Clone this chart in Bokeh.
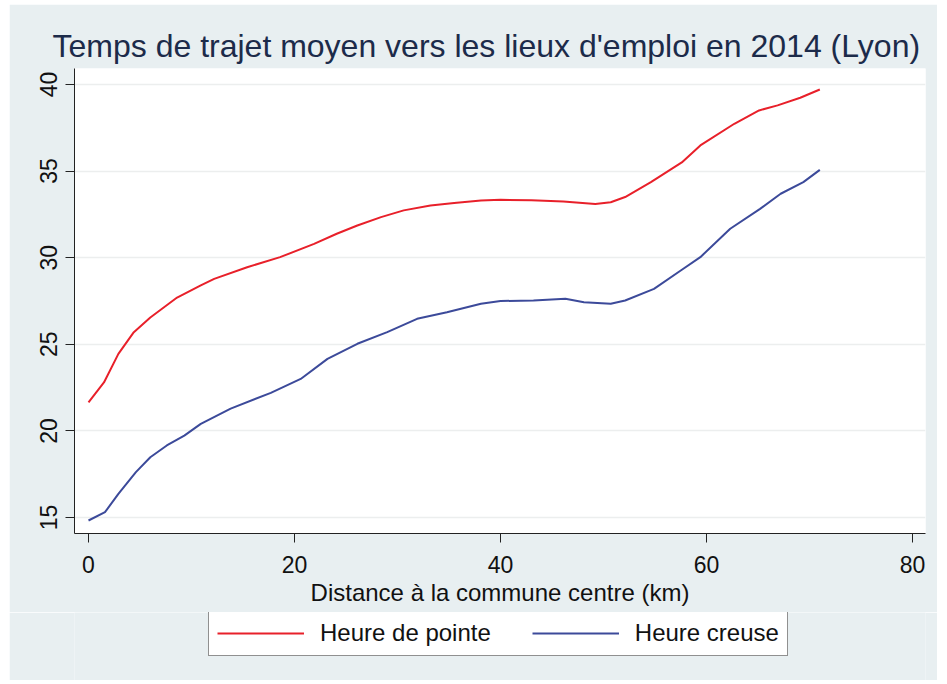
from bokeh.plotting import figure
from bokeh.layouts import column
from bokeh.models import Legend, LegendItem, Range1d, FixedTicker
from bokeh.embed import file_html
from bokeh.resources import INLINE

# Data
pointe_x = [0, 1.5, 2.9, 4.4, 6.0, 8.6, 10.9, 12.2, 15.4, 18.6, 21.9, 24.1, 26.1, 28.4, 30.6,
            33.2, 35.5, 38.1, 40.0, 43.0, 46.1, 49.2, 50.7, 52.1, 54.6, 57.6, 59.4, 62.7, 65.1,
            66.9, 69.1, 71.0]
pointe_y = [21.65, 22.8, 24.45, 25.7, 26.55, 27.7, 28.4, 28.78, 29.45, 30.03, 30.8, 31.38, 31.86,
            32.34, 32.73, 33.01, 33.15, 33.3, 33.34, 33.32, 33.24, 33.1, 33.2, 33.5, 34.36, 35.5,
            36.48, 37.73, 38.5, 38.79, 39.23, 39.71]

creuse_x = [0, 1.6, 2.9, 4.6, 6.0, 7.6, 9.3, 10.9, 13.8, 17.7, 20.6, 23.2, 26.1, 29.0, 31.9, 34.8,
            38.1, 40.0, 43.2, 46.3, 48.1, 50.7, 52.1, 54.9, 57.5, 59.4, 62.3, 65.2, 67.2, 69.4, 71.0]
creuse_y = [14.83, 15.31, 16.37, 17.62, 18.48, 19.16, 19.73, 20.41, 21.29, 22.2, 23.0, 24.16, 25.03,
            25.7, 26.47, 26.85, 27.34, 27.5, 27.53, 27.63, 27.43, 27.34, 27.53, 28.2, 29.26, 30.03,
            31.67, 32.82, 33.69, 34.36, 35.07]

x_ticks = [0, 20, 40, 60, 80]
y_ticks = [15, 20, 25, 30, 35, 40]

title_text = "Temps de trajet moyen vers les lieux d'emploi en 2014 (Lyon)"
x_label = "Distance à la commune centre (km)"
labels = ["Heure de pointe", "Heure creuse"]

FONT = "Liberation Sans"
BG = "#E8EFF1"
RED = "#E8202A"
BLUE = "#3C4A9A"

p = figure(width=928, height=608, output_backend="svg", toolbar_location=None,
           x_range=Range1d(-1.36, 81.26), y_range=Range1d(14.08, 40.92),
           min_border_left=65, min_border_right=12, min_border_top=64, min_border_bottom=79,
           background_fill_color="white", border_fill_color=BG, outline_line_color=None)

p.title.text = title_text
p.title.text_font = FONT
p.title.text_font_size = "32px"
p.title.text_font_style = "normal"
p.title.text_color = "#1C2B4A"
p.title.align = "left"
p.title.offset = -22
p.title.standoff = 10

p.line(pointe_x, pointe_y, line_color=RED, line_width=2)
p.line(creuse_x, creuse_y, line_color=BLUE, line_width=2)

p.xaxis.ticker = FixedTicker(ticks=x_ticks)
p.yaxis.ticker = FixedTicker(ticks=y_ticks)
for ax in (p.xaxis, p.yaxis):
    ax.axis_line_color = "#222222"
    ax.axis_line_width = 1
    ax.major_tick_line_color = "#222222"
    ax.major_tick_out = 9
    ax.major_tick_in = 0
    ax.minor_tick_line_color = None
    ax.major_label_text_font = FONT
    ax.major_label_text_font_size = "23px"
    ax.major_label_text_color = "#111111"
    ax.axis_label_text_font = FONT
    ax.axis_label_text_font_size = "24px"
    ax.axis_label_text_font_style = "normal"
    ax.axis_label_text_color = "#111111"

p.yaxis.major_label_orientation = "vertical"
p.yaxis.major_label_standoff = 8
p.xaxis.major_label_standoff = 13
p.xaxis.axis_label = x_label
p.xaxis.axis_label_standoff = 3

p.xgrid.grid_line_color = None
p.ygrid.grid_line_color = "#ECEEEE"
p.ygrid.grid_line_width = 1.5

# Legend strip below the chart (the series are drawn here outside the visible range,
# only so that the legend can show their line styles)
lg = figure(width=928, height=68, output_backend="svg", toolbar_location=None,
            x_range=Range1d(0, 1), y_range=Range1d(0, 1),
            x_axis_type=None, y_axis_type=None,
            min_border_left=65, min_border_right=12, min_border_top=0, min_border_bottom=0,
            background_fill_color=BG, border_fill_color=BG, outline_line_color=None)
lg.xgrid.visible = False
lg.ygrid.visible = False
g1 = lg.line(pointe_x, pointe_y, line_color=RED, line_width=2)
g2 = lg.line(creuse_x, creuse_y, line_color=BLUE, line_width=2)

legend = Legend(items=[LegendItem(label=labels[0], renderers=[g1]),
                       LegendItem(label=labels[1], renderers=[g2])],
                orientation="horizontal", location=(134, 24),
                border_line_color="#222222", border_line_width=1,
                background_fill_color="white", background_fill_alpha=1.0,
                label_text_font=FONT, label_text_font_size="24px", label_text_color="#111111",
                glyph_width=87, glyph_height=20, label_standoff=16, spacing=41,
                padding=8, margin=0)
lg.add_layout(legend)

layout = column(p, lg, spacing=0, margin=(4, 0, 0, 9))
open("out.html", "w").write(file_html(layout, INLINE))
